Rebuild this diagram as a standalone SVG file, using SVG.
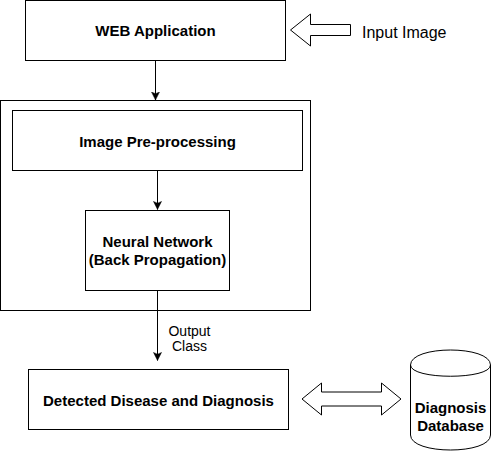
<svg xmlns="http://www.w3.org/2000/svg" width="491" height="451" viewBox="0 0 491 451">
<defs>
<style>
.box{fill:#fff;stroke:#000;stroke-width:1}
.line{fill:none;stroke:#000;stroke-width:1}
.bold{font-family:"Liberation Sans",Arial,sans-serif;font-weight:bold;font-size:15px;fill:#000;text-anchor:middle}
.reg{font-family:"Liberation Sans",Arial,sans-serif;font-size:16px;fill:#000}
.lbl{font-family:"Liberation Sans",Arial,sans-serif;font-size:14px;fill:#000;text-anchor:middle}
.big{fill:#fff;stroke:#000;stroke-width:1;stroke-linejoin:miter}
</style>
<marker id="arr" viewBox="0 0 10 10" refX="9" refY="5" markerWidth="9" markerHeight="9" markerUnits="userSpaceOnUse" orient="auto">
<path d="M0,0.5 L9,5 L0,9.5 L2,5 Z" fill="#000" stroke="#000" stroke-width="0.5"/>
</marker>
</defs>
<rect width="491" height="451" fill="#fff"/>
<g id="outer">
<rect class="box" x="0.5" y="100.5" width="310" height="210"/>
</g>
<g id="web">
<rect class="box" x="25.5" y="0.5" width="260" height="60"/>
<text class="bold" x="155.5" y="36">WEB Application</text>
</g>
<g id="pre">
<rect class="box" x="12.5" y="110.5" width="290" height="60"/>
<text class="bold" x="157.5" y="146.5">Image Pre-processing</text>
</g>
<g id="nn">
<rect class="box" x="85.5" y="210.5" width="144" height="80"/>
<text class="bold" x="157.5" y="246.5">Neural Network</text>
<text class="bold" x="157.5" y="265">(Back Propagation)</text>
</g>
<g id="detected">
<rect class="box" x="28.5" y="369.5" width="260" height="60"/>
<text class="bold" x="158.5" y="405.5">Detected Disease and Diagnosis</text>
</g>
<g id="db">
<path class="box" d="M410.5,365 C410.5,345 490.5,345 490.5,365 L490.5,435 C490.5,455 410.5,455 410.5,435 Z"/>
<path class="line" d="M410.5,365 C410.5,380 490.5,380 490.5,365"/>
<text class="bold" x="450.5" y="412.5">Diagnosis</text>
<text class="bold" x="450.5" y="431">Database</text>
</g>
<g id="input">
<text class="reg" x="362" y="37.5">Input Image</text>
</g>
<g id="connectors">
<line class="line" x1="155.5" y1="60.5" x2="155.5" y2="100" marker-end="url(#arr)"/>
<line class="line" x1="157.5" y1="170.5" x2="157.5" y2="209.5" marker-end="url(#arr)"/>
<line class="line" x1="157.5" y1="290.5" x2="157.5" y2="360.5" marker-end="url(#arr)"/>
<text class="lbl" x="189.5" y="335.5">Output</text>
<text class="lbl" x="189.5" y="351">Class</text>
<polygon class="big" points="290.5,30 310.5,14 310.5,24.5 350.5,24.5 350.5,35.5 310.5,35.5 310.5,46"/>
<polygon class="big" points="302,399 321.5,383 321.5,392 381.5,392 381.5,383 401,399 381.5,415 381.5,406 321.5,406 321.5,415"/>
</g>
</svg>
